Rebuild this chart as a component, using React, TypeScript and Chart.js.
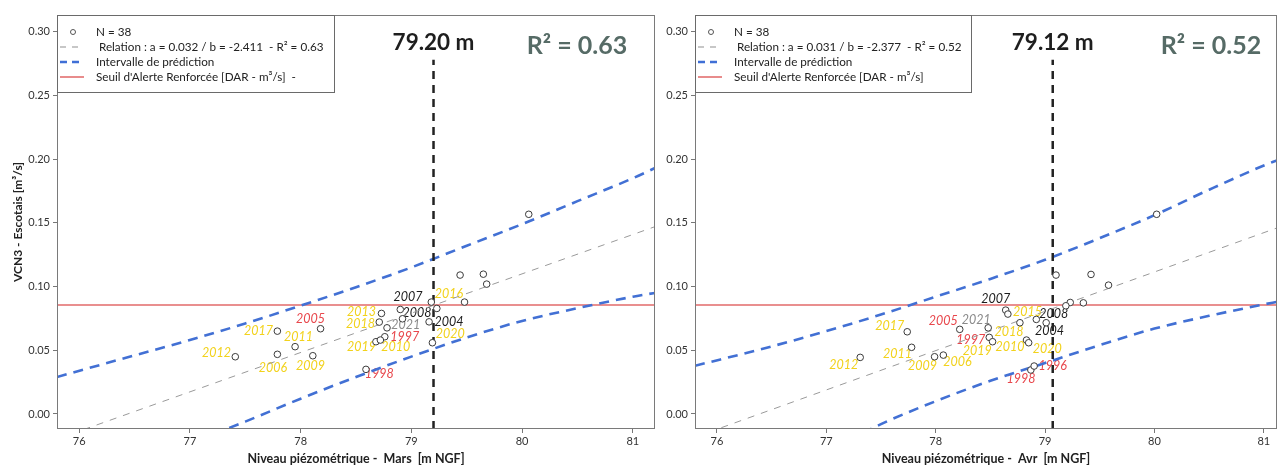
import React, { useEffect, useRef } from "react";
import { Chart, registerables } from "chart.js";

Chart.register(...registerables);

const FONT = "Lato, 'Open Sans', sans-serif";

// ---------------- Mars panel data ----------------
const MARS_LEVEL = [77.41, 77.79, 77.79, 77.95, 78.11, 78.18, 78.59, 78.73, 78.71, 78.78, 78.76, 78.68, 78.72, 78.9, 78.92, 79.18, 79.23, 79.16, 79.19, 79.48, 79.44, 79.65, 79.68, 80.06];
const MARS_VCN3 = [0.0449, 0.065, 0.0468, 0.0528, 0.0457, 0.0669, 0.035, 0.0789, 0.0721, 0.0676, 0.0606, 0.0567, 0.058, 0.082, 0.0747, 0.0878, 0.0828, 0.0723, 0.0559, 0.0878, 0.109, 0.1097, 0.1019, 0.1567];
const MARS_REL_X = [75.8, 81.2];
const MARS_REL_Y = [-0.0197, 0.147];
const MARS_BAND_X = [75.8, 76.5, 77, 77.5, 78, 78.5, 79, 79.5, 80, 80.5, 81, 81.2];
const MARS_UPPER = [0.029, 0.046, 0.058, 0.071, 0.085, 0.0995, 0.115, 0.132, 0.149, 0.167, 0.185, 0.193];
const MARS_LOWER = [-0.068, -0.042, -0.023, -0.006, 0.012, 0.029, 0.045, 0.06, 0.073, 0.083, 0.092, 0.095];
const MARS_CUT = 79.2;
const MARS_LABEL_YEARS = ["2012", "2017", "2006", "2011", "2009", "2005", "1998", "2013", "2018", "2021", "1997", "2019", "2010", "2007", "2008", "2004", "2016", "2020"];
const MARS_LABEL_X = [77.24, 77.62, 77.75, 77.98, 78.09, 78.09, 78.71, 78.55, 78.54, 78.95, 78.94, 78.55, 78.86, 78.97, 79.05, 79.34, 79.34, 79.35];
const MARS_LABEL_Y = [0.0481, 0.065, 0.0358, 0.0606, 0.0376, 0.0742, 0.0311, 0.0797, 0.0705, 0.0697, 0.0606, 0.0522, 0.0522, 0.0915, 0.0789, 0.0723, 0.0938, 0.0627];
const MARS_LABEL_KIND = ["y", "y", "y", "y", "y", "r", "r", "y", "y", "g", "r", "y", "y", "k", "k", "k", "y", "y"];

// ---------------- Avril panel data ----------------
const AVR_LEVEL = [77.31, 77.74, 77.78, 77.99, 78.07, 78.22, 78.48, 78.49, 78.52, 78.64, 78.66, 78.77, 78.83, 78.85, 78.92, 79.01, 78.87, 78.9, 79.1, 79.23, 79.19, 79.35, 79.42, 79.58, 80.02];
const AVR_VCN3 = [0.0444, 0.0645, 0.0523, 0.0449, 0.0462, 0.0664, 0.0676, 0.0601, 0.0567, 0.0815, 0.0784, 0.0716, 0.058, 0.0559, 0.0742, 0.0716, 0.0345, 0.0376, 0.109, 0.0875, 0.0849, 0.0872, 0.1095, 0.1011, 0.1567];
const AVR_REL_X = [75.8, 81.12];
const AVR_REL_Y = [-0.0182, 0.146];
const AVR_BAND_X = [75.8, 76.5, 77, 77.5, 78, 78.5, 79, 79.5, 80, 80.5, 81, 81.12];
const AVR_UPPER = [0.0378, 0.053, 0.065, 0.078, 0.092, 0.106, 0.121, 0.138, 0.156, 0.176, 0.195, 0.199];
const AVR_LOWER = [-0.08, -0.052, -0.03, -0.008, 0.01, 0.026, 0.04, 0.054, 0.067, 0.077, 0.086, 0.088];
const AVR_CUT = 79.07;
const AVR_LABEL_YEARS = ["2012", "2017", "2011", "2009", "2006", "2005", "2021", "1997", "2019", "2007", "2015", "2018", "2010", "2008", "2004", "2020", "1996", "1998"];
const AVR_LABEL_X = [77.16, 77.58, 77.65, 77.88, 78.2, 78.07, 78.37, 78.32, 78.38, 78.55, 78.84, 78.67, 78.68, 79.08, 79.04, 79.02, 79.07, 78.78];
const AVR_LABEL_Y = [0.0384, 0.0692, 0.047, 0.0376, 0.041, 0.0729, 0.0737, 0.058, 0.0496, 0.0899, 0.0802, 0.0645, 0.0522, 0.0784, 0.0653, 0.0507, 0.0376, 0.0274];
const AVR_LABEL_KIND = ["y", "y", "y", "y", "y", "r", "g", "r", "y", "k", "y", "y", "y", "k", "k", "y", "r", "r"];

// ---------------- shared ----------------
const THRESHOLD = 0.0855;
const CUT_TOP = 0.278;
const Y_MIN = -0.0118;
const Y_MAX = 0.3131;
const X_MIN = 75.8;

const KIND_COLOR: Record<string, string> = {
  y: "#f2d21c",
  r: "#e8474c",
  k: "#1c1c1c",
  g: "#8a8a8a",
};

type PanelCfg = {
  left: number;
  width: number;
  yAxisWidth: number;
  padRight: number;
  xMax: number;
  yTitle: string;
  xTitle: string;
  relation: string;
  seuil: string;
  legendW: number;
  cutText: string;
  r2Text: string;
  r2X: number;
  level: number[];
  vcn3: number[];
  relX: number[];
  relY: number[];
  bandX: number[];
  upper: number[];
  lower: number[];
  cut: number;
  labYears: string[];
  labX: number[];
  labY: number[];
  labKind: string[];
};

const PANELS: PanelCfg[] = [
  {
    left: 0,
    width: 660,
    yAxisWidth: 57,
    padRight: 5,
    xMax: 81.2,
    yTitle: "VCN3 - Escotais [m³/s]",
    xTitle: "Niveau piézométrique -  Mars  [m NGF]",
    relation: " Relation : a = 0.032 / b = -2.411  - R² = 0.63",
    seuil: "Seuil d'Alerte Renforcée [DAR - m³/s]  -",
    legendW: 277,
    cutText: "79.20 m",
    r2Text: "R² = 0.63",
    r2X: 577,
    level: MARS_LEVEL,
    vcn3: MARS_VCN3,
    relX: MARS_REL_X,
    relY: MARS_REL_Y,
    bandX: MARS_BAND_X,
    upper: MARS_UPPER,
    lower: MARS_LOWER,
    cut: MARS_CUT,
    labYears: MARS_LABEL_YEARS,
    labX: MARS_LABEL_X,
    labY: MARS_LABEL_Y,
    labKind: MARS_LABEL_KIND,
  },
  {
    left: 660,
    width: 622,
    yAxisWidth: 35,
    padRight: 2,
    xMax: 81.12,
    yTitle: "",
    xTitle: "Niveau piézométrique -  Avr  [m NGF]",
    relation: " Relation : a = 0.031 / b = -2.377  - R² = 0.52",
    seuil: "Seuil d'Alerte Renforcée [DAR - m³/s]",
    legendW: 276,
    cutText: "79.12 m",
    r2Text: "R² = 0.52",
    r2X: 551,
    level: AVR_LEVEL,
    vcn3: AVR_VCN3,
    relX: AVR_REL_X,
    relY: AVR_REL_Y,
    bandX: AVR_BAND_X,
    upper: AVR_UPPER,
    lower: AVR_LOWER,
    cut: AVR_CUT,
    labYears: AVR_LABEL_YEARS,
    labX: AVR_LABEL_X,
    labY: AVR_LABEL_Y,
    labKind: AVR_LABEL_KIND,
  },
];

function overlayPlugin(cfg: PanelCfg) {
  return {
    id: "overlay",
    beforeDatasetsDraw(chart: any) {
      const ctx = chart.ctx;
      const xs = chart.scales.x;
      const ys = chart.scales.y;
      const a = chart.chartArea;
      ctx.save();
      ctx.beginPath();
      ctx.rect(a.left, a.top, a.right - a.left, a.bottom - a.top);
      ctx.clip();
      ctx.font = `italic 12.5px ${FONT}`;
      ctx.textAlign = "center";
      ctx.textBaseline = "middle";
      cfg.labYears.forEach((yr, i) => {
        ctx.fillStyle = KIND_COLOR[cfg.labKind[i]];
        ctx.fillText(yr, xs.getPixelForValue(cfg.labX[i]), ys.getPixelForValue(cfg.labY[i]));
      });
      ctx.restore();
    },
    afterDraw(chart: any) {
      const ctx = chart.ctx;
      const a = chart.chartArea;
      const xs = chart.scales.x;
      ctx.save();
      // plot frame
      ctx.strokeStyle = "#7a7a7a";
      ctx.lineWidth = 1;
      ctx.strokeRect(Math.round(a.left) + 0.5, Math.round(a.top) + 0.5, Math.round(a.right - a.left) - 1, Math.round(a.bottom - a.top) - 1);

      // legend box
      const L = Math.round(a.left);
      const T = Math.round(a.top);
      ctx.fillStyle = "#ffffff";
      ctx.fillRect(L, T, cfg.legendW, 77);
      ctx.strokeStyle = "#6a6a6a";
      ctx.strokeRect(L + 0.5, T + 0.5, cfg.legendW, 77);
      const rows = [T + 17, T + 32, T + 47, T + 62];
      // circle
      ctx.beginPath();
      ctx.strokeStyle = "#555";
      ctx.lineWidth = 1;
      ctx.arc(L + 16, rows[0], 2.5, 0, Math.PI * 2);
      ctx.stroke();
      // relation dashes
      ctx.strokeStyle = "#8f8f8f";
      ctx.lineWidth = 1;
      ctx.setLineDash([6, 6]);
      ctx.beginPath();
      ctx.moveTo(L + 3, rows[1]);
      ctx.lineTo(L + 27, rows[1]);
      ctx.stroke();
      // prediction dashes
      ctx.strokeStyle = "#3f6fd6";
      ctx.lineWidth = 2.5;
      ctx.setLineDash([7, 5]);
      ctx.beginPath();
      ctx.moveTo(L + 3, rows[2]);
      ctx.lineTo(L + 27, rows[2]);
      ctx.stroke();
      ctx.setLineDash([]);
      // seuil line
      ctx.strokeStyle = "#e06666";
      ctx.lineWidth = 1.5;
      ctx.beginPath();
      ctx.moveTo(L + 3, rows[3]);
      ctx.lineTo(L + 27, rows[3]);
      ctx.stroke();
      // legend texts
      ctx.fillStyle = "#222";
      ctx.font = `11.7px ${FONT}`;
      ctx.textAlign = "left";
      ctx.textBaseline = "middle";
      ctx.fillText("N = 38", L + 39, rows[0]);
      ctx.fillText(cfg.relation, L + 39, rows[1]);
      ctx.fillText("Intervalle de prédiction", L + 39, rows[2]);
      ctx.fillText(cfg.seuil, L + 39, rows[3]);

      // cut value
      ctx.fillStyle = "#1e1e1e";
      ctx.font = `bold 22.5px ${FONT}`;
      ctx.textAlign = "center";
      ctx.fillText(cfg.cutText, xs.getPixelForValue(cfg.cut), T + 28);
      // R2
      ctx.fillStyle = "#566b66";
      ctx.font = `bold 25px ${FONT}`;
      ctx.fillText(cfg.r2Text, cfg.r2X, T + 31);
      ctx.restore();
    },
  };
}

function Panel({ cfg }: { cfg: PanelCfg }) {
  const ref = useRef<HTMLCanvasElement | null>(null);
  useEffect(() => {
    if (!ref.current) return;
    const pts = cfg.level.map((x, i) => ({ x, y: cfg.vcn3[i] }));
    const rel = cfg.relX.map((x, i) => ({ x, y: cfg.relY[i] }));
    const up = cfg.bandX.map((x, i) => ({ x, y: cfg.upper[i] }));
    const lo = cfg.bandX.map((x, i) => ({ x, y: cfg.lower[i] }));
    const thr = [
      { x: X_MIN, y: THRESHOLD },
      { x: cfg.xMax, y: THRESHOLD },
    ];
    const vline = [
      { x: cfg.cut, y: Y_MIN },
      { x: cfg.cut, y: CUT_TOP },
    ];
    const tickFont = { family: FONT, size: 11 };
    const chart = new Chart(ref.current, {
      type: "scatter",
      data: {
        datasets: [
          {
            type: "scatter",
            data: pts,
            pointRadius: 3.3,
            pointBackgroundColor: "#ffffff",
            pointBorderColor: "#3a3a3a",
            pointBorderWidth: 1,
          } as any,
          {
            type: "line",
            data: vline,
            borderColor: "#222",
            borderWidth: 2.5,
            borderDash: [8, 6],
            pointRadius: 0,
          },
          {
            type: "line",
            data: rel,
            borderColor: "#9a9a9a",
            borderWidth: 1,
            borderDash: [7, 7],
            pointRadius: 0,
          },
          {
            type: "line",
            data: up,
            borderColor: "#4270d4",
            borderWidth: 2.6,
            borderDash: [10, 7],
            pointRadius: 0,
            cubicInterpolationMode: "monotone",
          },
          {
            type: "line",
            data: lo,
            borderColor: "#4270d4",
            borderWidth: 2.6,
            borderDash: [10, 7],
            pointRadius: 0,
            cubicInterpolationMode: "monotone",
          },
          {
            type: "line",
            data: thr,
            borderColor: "#e26a6a",
            borderWidth: 1.5,
            pointRadius: 0,
          },
        ],
      },
      options: {
        responsive: false,
        animation: false,
        devicePixelRatio: 1,
        events: [],
        layout: { padding: { top: 15, right: cfg.padRight, left: 0, bottom: 0 } },
        plugins: { legend: { display: false }, tooltip: { enabled: false } },
        scales: {
          x: {
            type: "linear",
            min: X_MIN,
            max: cfg.xMax,
            afterFit: (s: any) => {
              s.height = 39;
            },
            border: { display: false },
            grid: { drawOnChartArea: false, drawTicks: true, tickLength: 4, color: "#777" },
            ticks: {
              stepSize: 1,
              includeBounds: false,
              font: tickFont,
              color: "#333",
              padding: 2,
              callback: (v: any) => String(v),
            },
            title: {
              display: true,
              text: cfg.xTitle,
              font: { family: FONT, size: 12.5, weight: "bold" },
              color: "#222",
              padding: { top: 0, bottom: 2 },
            },
          },
          y: {
            type: "linear",
            min: Y_MIN,
            max: Y_MAX,
            afterFit: (s: any) => {
              s.width = cfg.yAxisWidth;
            },
            border: { display: false },
            grid: { drawOnChartArea: false, drawTicks: true, tickLength: 4, color: "#777" },
            ticks: {
              stepSize: 0.05,
              includeBounds: false,
              font: tickFont,
              color: "#333",
              padding: 3,
              callback: (v: any) => Number(v).toFixed(2),
            },
            title: {
              display: cfg.yTitle !== "",
              text: cfg.yTitle,
              font: { family: FONT, size: 12, weight: "bold" },
              color: "#222",
              padding: { top: 11, bottom: 0 },
            },
          },
        },
      } as any,
      plugins: [overlayPlugin(cfg)],
    });
    return () => chart.destroy();
  }, [cfg]);
  return (
    <canvas
      ref={ref}
      width={cfg.width}
      height={468}
      style={{ position: "absolute", left: cfg.left, top: 0, width: cfg.width, height: 468 }}
    />
  );
}

export default function App() {
  return (
    <div style={{ position: "absolute", left: 0, top: 0, width: 1282, height: 468, background: "#fff", overflow: "hidden" }}>
      {PANELS.map((p, i) => (
        <Panel key={i} cfg={p} />
      ))}
    </div>
  );
}
